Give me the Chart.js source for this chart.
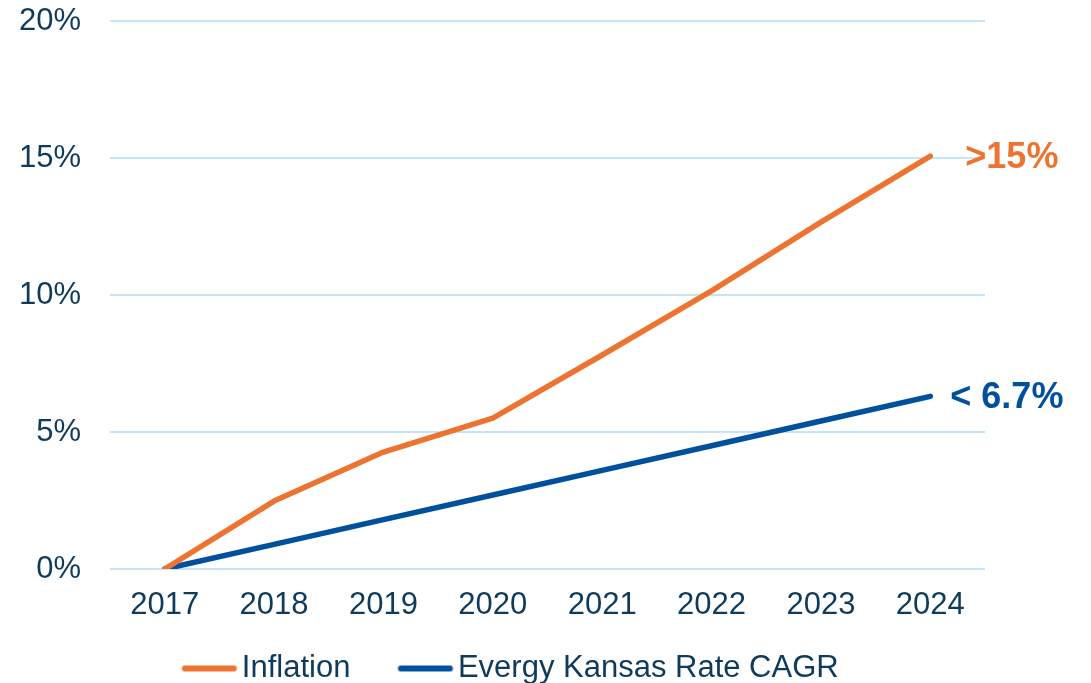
<!DOCTYPE html>
<html>
<head>
<meta charset="utf-8">
<script src="https://cdn.jsdelivr.net/npm/chart.js@4.4.1/dist/chart.umd.min.js"></script>
<style>
  html, body { margin: 0; padding: 0; background: #ffffff; }
  #wrap { width: 1091px; height: 683px; position: relative; }
</style>
</head>
<body>
<div id="wrap"><canvas id="c"></canvas></div>
<script>
const categories = ['2017', '2018', '2019', '2020', '2021', '2022', '2023', '2024'];
const inflation = [0, 2.48, 4.27, 5.51, 7.81, 10.15, 12.66, 15.07];
const evergyCagr = [0, 0.9, 1.8, 2.7, 3.6, 4.5, 5.4, 6.3];
const seriesNames = ['Inflation', 'Evergy Kansas Rate CAGR'];
const endLabels = ['>15%', '< 6.7%'];
const yTickValues = [0, 5, 10, 15, 20];

const ORANGE = '#ED7430';
const BLUE = '#00509E';
const TEXT = '#0E3A5C';
const GRID = '#C4E4F8';
const FONT = '"Liberation Sans", Arial, sans-serif';

// legend swatch: a short thick line with rounded ends, placed close to its label
function legendSwatch(color) {
  const c = document.createElement('canvas');
  c.width = 90; c.height = 12;
  const g = c.getContext('2d');
  g.strokeStyle = color;
  g.lineWidth = 6;
  g.lineCap = 'round';
  g.beginPath();
  g.moveTo(33.5, 6);
  g.lineTo(82.5, 6);
  g.stroke();
  return c;
}

const endLabelPlugin = {
  id: 'endLabels',
  afterDatasetsDraw(chart) {
    const ctx = chart.ctx;
    const offsets = [35, 20];
    chart.data.datasets.forEach((ds, i) => {
      const meta = chart.getDatasetMeta(i);
      const pt = meta.data[meta.data.length - 1];
      ctx.save();
      ctx.font = 'bold 36px ' + FONT;
      ctx.fillStyle = ds.borderColor;
      ctx.textAlign = 'left';
      ctx.textBaseline = 'middle';
      ctx.fillText(endLabels[i], pt.x + offsets[i], pt.y + 2);
      ctx.restore();
    });
  }
};

new Chart(document.getElementById('c'), {
  type: 'line',
  data: {
    labels: categories,
    datasets: [
      {
        label: seriesNames[0],
        data: inflation,
        borderColor: ORANGE,
        backgroundColor: ORANGE,
        borderWidth: 5.5,
        borderCapStyle: 'round',
        borderJoinStyle: 'round',
        pointRadius: 0,
        pointStyle: legendSwatch(ORANGE),
        tension: 0
      },
      {
        label: seriesNames[1],
        data: evergyCagr,
        borderColor: BLUE,
        backgroundColor: BLUE,
        borderWidth: 5.5,
        borderCapStyle: 'round',
        borderJoinStyle: 'round',
        pointRadius: 0,
        pointStyle: legendSwatch(BLUE),
        tension: 0
      }
    ]
  },
  options: {
    responsive: true,
    maintainAspectRatio: false,
    animation: false,
    layout: { padding: { left: 20, right: 106, top: 21, bottom: 0 } },
    plugins: {
      tooltip: { enabled: false },
      legend: {
        position: 'bottom',
        maxHeight: 62,
        labels: {
          usePointStyle: true,
          pointStyleWidth: 60,
          color: TEXT,
          padding: 32,
          font: { family: FONT, size: 31 }
        }
      }
    },
    scales: {
      x: {
        offset: true,
        grid: { display: false, drawTicks: false },
        border: { display: false },
        afterFit(axis) { axis.height = 52; },
        ticks: {
          color: TEXT,
          padding: 18,
          maxRotation: 0,
          font: { family: FONT, size: 31 }
        }
      },
      y: {
        min: 0,
        max: 20,
        afterBuildTicks(axis) { axis.ticks = yTickValues.map(v => ({ value: v })); },
        afterFit(axis) { axis.width = 90; axis.paddingTop = 0; axis.paddingBottom = 0; },
        grid: { color: GRID, lineWidth: 2, drawTicks: false },
        border: { display: false },
        ticks: {
          color: TEXT,
          padding: 29,
          callback: v => v + '%',
          font: { family: FONT, size: 31 }
        }
      }
    }
  },
  plugins: [endLabelPlugin]
});
</script>
</body>
</html>
